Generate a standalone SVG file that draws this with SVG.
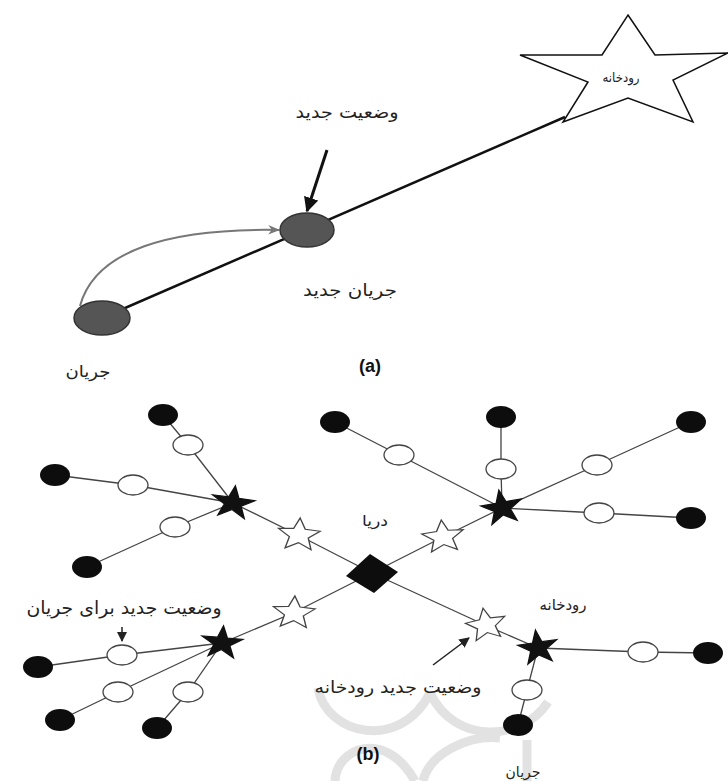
<svg xmlns="http://www.w3.org/2000/svg" xmlns:xlink="http://www.w3.org/1999/xlink" width="728" height="781" viewBox="0 0 728 781">
<style>
.t{font-family:"DejaVu Sans",sans-serif;fill:#222;text-anchor:middle}
.lbl{font-family:"Liberation Sans",Arial,sans-serif;font-weight:bold;font-size:18px;fill:#111;text-anchor:middle}
.edge{stroke:#444;stroke-width:1.3;fill:none}
.blk{fill:#0d0d0d}
.wht{fill:#fff;stroke:#444;stroke-width:1.3}
.bs{fill:#111;stroke:#111;stroke-width:1.2}
.ws{fill:#fff;stroke:#444;stroke-width:1.3}
.wm{fill:none;stroke:#e2e2e2;stroke-width:9}
</style>
<defs>
<path id="wstar" d="M0,-20 L5.3,-7.3 L19,-6.2 L8.6,2.8 L11.8,16.2 L0,9 L-11.8,16.2 L-8.6,2.8 L-19,-6.2 L-5.3,-7.3 Z"/>
<path id="bstar" d="M0,-18 L4.1,-5.7 L17.1,-5.6 L6.7,2.2 L10.6,14.6 L0,7 L-10.6,14.6 L-6.7,2.2 L-17.1,-5.6 L-4.1,-5.7 Z"/>
<marker id="ahb" viewBox="0 0 10 10" refX="9" refY="5" markerWidth="5" markerHeight="5" orient="auto" markerUnits="strokeWidth"><path d="M0,0 L10,5 L0,10 Z" fill="#111"/></marker>
<marker id="ahg" viewBox="0 0 10 10" refX="9" refY="5" markerWidth="6" markerHeight="6" orient="auto" markerUnits="strokeWidth"><path d="M0,1 L10,5 L0,9 L3,5 Z" fill="#777"/></marker>
<marker id="ahs" viewBox="0 0 10 10" refX="9" refY="5" markerWidth="7" markerHeight="7" orient="auto" markerUnits="strokeWidth"><path d="M0,0 L10,5 L0,10 Z" fill="#222"/></marker>
</defs>
<rect width="728" height="781" fill="#fff"/>

<!-- watermark -->
<g id="watermark">
<path class="wm" d="M318,688 C326,735 400,752 430,693"/>
<path class="wm" d="M430,693 C455,745 522,742 548,702"/>
<path class="wm" d="M335,781 C336,748 385,728 415,781"/>
<path class="wm" d="M423,781 C430,752 470,735 500,738"/>
<path class="wm" d="M527,740 L527,781"/>
</g>

<!-- connectors -->
<g id="connectors">
<line x1="102" y1="318" x2="565" y2="117" stroke="#111" stroke-width="2.5"/>
<path d="M80,306 C95,250 170,228 279,230" fill="none" stroke="#777" stroke-width="2" marker-end="url(#ahg)"/>
<line x1="327" y1="150" x2="307" y2="211" stroke="#111" stroke-width="3" marker-end="url(#ahb)"/>

<polyline class="edge" points="163,415 188,445 233,503"/>
<polyline class="edge" points="55,475 133,485 233,503"/>
<polyline class="edge" points="87,567 175,527 233,503"/>
<polyline class="edge" points="233,503 298,535 372,573"/>

<polyline class="edge" points="335,422 399,455 502,508"/>
<polyline class="edge" points="501,417 501,469 502,508"/>
<polyline class="edge" points="691,422 597,465 502,508"/>
<polyline class="edge" points="691,518 599,513 502,508"/>
<polyline class="edge" points="502,508 443,537 372,573"/>

<polyline class="edge" points="372,573 293,613 222,643"/>
<polyline class="edge" points="38,667 122,655 222,643"/>
<polyline class="edge" points="60,720 118,692 222,643"/>
<polyline class="edge" points="157,728 188,692 222,643"/>

<polyline class="edge" points="372,573 485,625 538,648"/>
<polyline class="edge" points="538,648 643,652 708,653"/>
<polyline class="edge" points="538,648 527,690 518,725"/>

<line x1="122" y1="627" x2="122" y2="641" stroke="#222" stroke-width="1.5" marker-end="url(#ahs)"/>
<line x1="433" y1="665" x2="469" y2="638" stroke="#222" stroke-width="1.5" marker-end="url(#ahs)"/>
</g>

<!-- part (a) nodes -->
<g id="river-a">
<polygon points="628,15 655,55 728,53 673,80 693,122 628,98 563,122 588,82 520,55 602,55" fill="#fff" stroke="#111" stroke-width="1.5"/>
<text class="t" x="621" y="82" font-size="13" textLength="37" lengthAdjust="spacingAndGlyphs">رودخانه</text>
</g>
<g id="stream-a">
<ellipse cx="102" cy="318" rx="28" ry="17" fill="#555" stroke="#333" stroke-width="1.5"/>
<text class="t" x="88" y="377" font-size="16" textLength="45" lengthAdjust="spacingAndGlyphs">جریان</text>
</g>
<g id="newstream-a">
<ellipse cx="307" cy="230" rx="27" ry="17" fill="#555" stroke="#333" stroke-width="1.5"/>
<text class="t" x="350" y="296" font-size="17" textLength="94" lengthAdjust="spacingAndGlyphs">جریان جدید</text>
</g>
<g id="newpos-a">
<text class="t" x="347" y="118" font-size="17" textLength="103" lengthAdjust="spacingAndGlyphs">وضعیت جدید</text>
</g>
<text class="lbl" x="370" y="372">(a)</text>

<!-- part (b) nodes -->
<g id="sea">
<polygon points="346,576 370,554 398,572 374,593" fill="#0d0d0d"/>
<text class="t" x="375" y="526" font-size="15" textLength="26" lengthAdjust="spacingAndGlyphs">دریا</text>
</g>

<g id="river1"><use href="#bstar" class="bs" transform="translate(233,503) rotate(8) scale(1.25,0.95)"/></g>
<g id="river2"><use href="#bstar" class="bs" transform="translate(502,508) rotate(-10) scale(1.2,1)"/></g>
<g id="river3"><use href="#bstar" class="bs" transform="translate(222,643) rotate(5) scale(1.2,0.95)"/></g>
<g id="river4"><use href="#bstar" class="bs" transform="translate(538,648) rotate(-8) scale(1.15,1)"/>
<text class="t" x="563" y="610" font-size="15" textLength="47" lengthAdjust="spacingAndGlyphs">رودخانه</text></g>

<g id="newriver1"><use href="#wstar" class="ws" transform="translate(299,535) rotate(4) scale(1.1,0.85)"/></g>
<g id="newriver2"><use href="#wstar" class="ws" transform="translate(443,537) rotate(-6) scale(1.1,0.85)"/></g>
<g id="newriver3"><use href="#wstar" class="ws" transform="translate(294,613) rotate(3) scale(1.1,0.85)"/></g>
<g id="newriver4"><use href="#wstar" class="ws" transform="translate(486,625) rotate(-10) scale(1.05,0.85)"/>
<text class="t" x="398" y="693" font-size="17" textLength="167" lengthAdjust="spacingAndGlyphs">وضعیت جدید رودخانه</text></g>

<g id="s1a"><ellipse class="wht" cx="188" cy="445" rx="15" ry="10"/></g>
<g id="s1b"><ellipse class="blk" cx="163" cy="415" rx="15" ry="11"/></g>
<g id="s2a"><ellipse class="wht" cx="133" cy="485" rx="15" ry="10"/></g>
<g id="s2b"><ellipse class="blk" cx="55" cy="475" rx="15" ry="11"/></g>
<g id="s3a"><ellipse class="wht" cx="175" cy="527" rx="15" ry="10"/></g>
<g id="s3b"><ellipse class="blk" cx="87" cy="567" rx="15" ry="11"/></g>

<g id="s4a"><ellipse class="wht" cx="399" cy="455" rx="15" ry="10"/></g>
<g id="s4b"><ellipse class="blk" cx="335" cy="422" rx="15" ry="11"/></g>
<g id="s5a"><ellipse class="wht" cx="501" cy="469" rx="15" ry="10"/></g>
<g id="s5b"><ellipse class="blk" cx="501" cy="417" rx="15" ry="11"/></g>
<g id="s6a"><ellipse class="wht" cx="597" cy="465" rx="15" ry="10"/></g>
<g id="s6b"><ellipse class="blk" cx="691" cy="422" rx="15" ry="11"/></g>
<g id="s7a"><ellipse class="wht" cx="599" cy="513" rx="15" ry="10"/></g>
<g id="s7b"><ellipse class="blk" cx="691" cy="518" rx="15" ry="11"/></g>

<g id="s8a"><ellipse class="wht" cx="122" cy="655" rx="15" ry="10"/>
<text class="t" x="124" y="614" font-size="18" textLength="195" lengthAdjust="spacingAndGlyphs">وضعیت جدید برای جریان</text></g>
<g id="s8b"><ellipse class="blk" cx="38" cy="667" rx="15" ry="11"/></g>
<g id="s9a"><ellipse class="wht" cx="118" cy="692" rx="15" ry="10"/></g>
<g id="s9b"><ellipse class="blk" cx="60" cy="720" rx="15" ry="11"/></g>
<g id="s10a"><ellipse class="wht" cx="188" cy="692" rx="15" ry="10"/></g>
<g id="s10b"><ellipse class="blk" cx="157" cy="728" rx="15" ry="11"/></g>

<g id="s11a"><ellipse class="wht" cx="643" cy="652" rx="15" ry="10"/></g>
<g id="s11b"><ellipse class="blk" cx="708" cy="653" rx="15" ry="11" fill="#1a1a1a"/></g>
<g id="s12a"><ellipse class="wht" cx="527" cy="690" rx="15" ry="10"/></g>
<g id="s12b"><ellipse class="blk" cx="518" cy="725" rx="15" ry="11"/>
<text class="t" x="523" y="777" font-size="14">جریان</text></g>

<text class="lbl" x="368" y="760">(b)</text>
</svg>
